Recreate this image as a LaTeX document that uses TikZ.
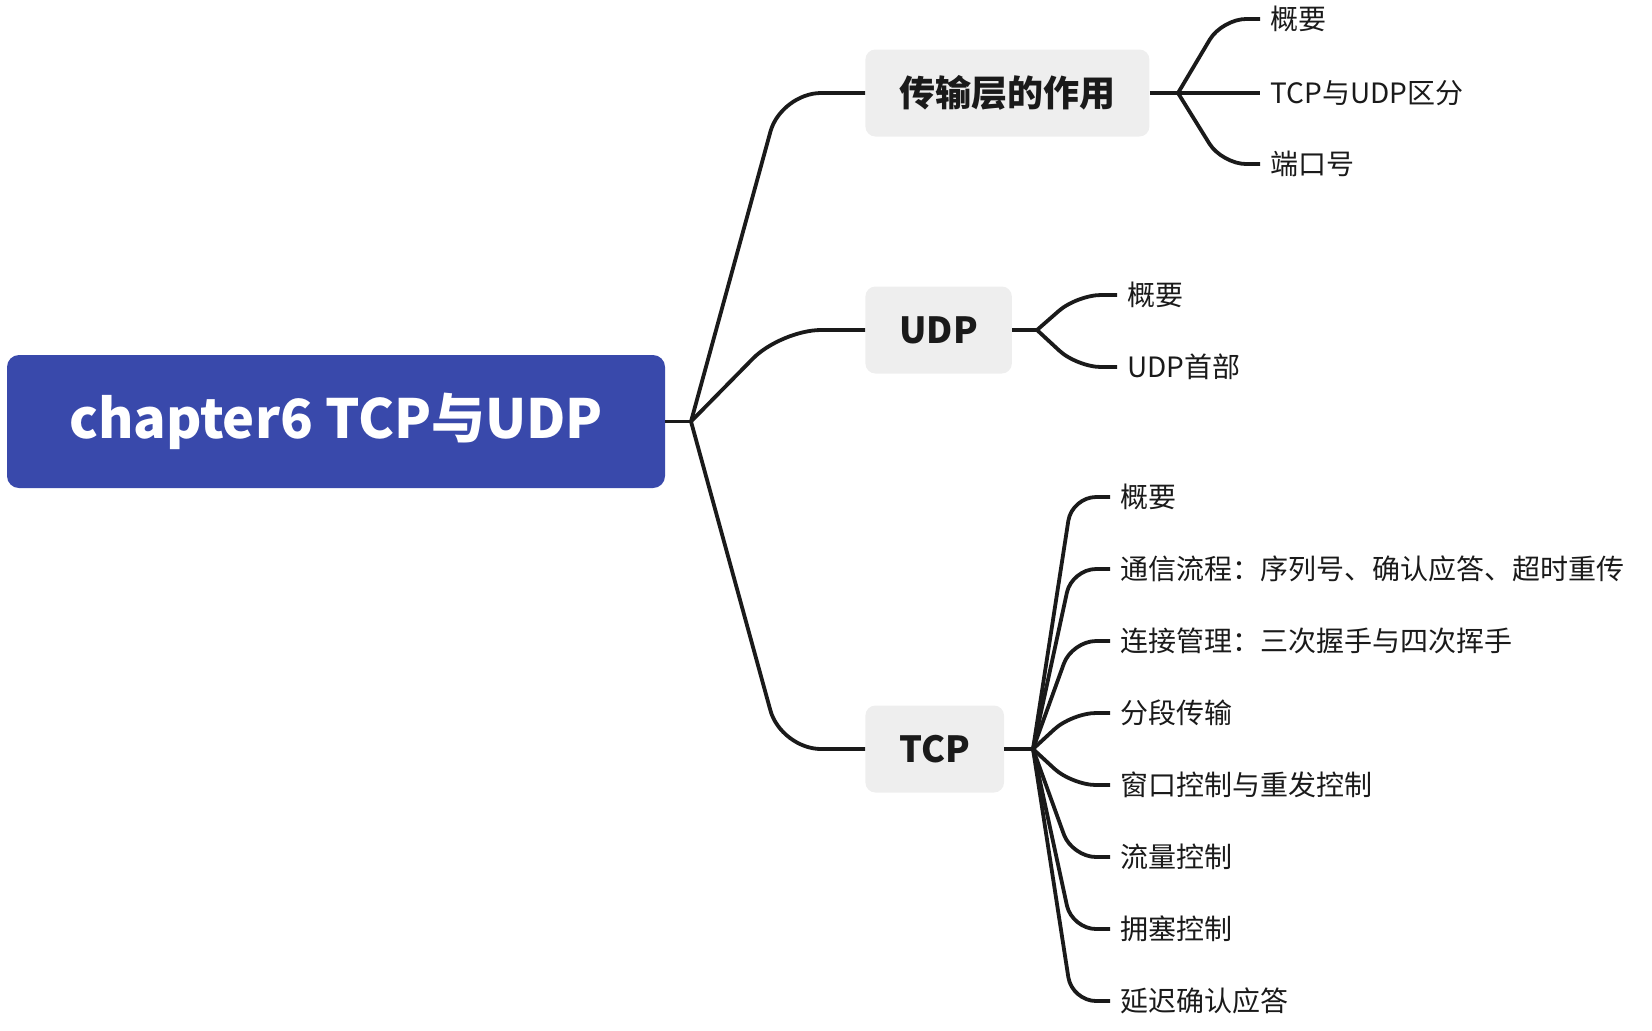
\documentclass[tikz,border=0pt]{standalone}
\usepackage{fontspec}
\setmainfont{Noto Sans CJK SC}
\definecolor{rootblue}{HTML}{3949AB}
\definecolor{boxgray}{HTML}{EEEEEE}
\definecolor{ink}{HTML}{1A1A1A}

\begin{document}
\begin{tikzpicture}[x=0.5pt,y=-0.5pt,
		root/.style={fill=rootblue,rounded corners=6pt,minimum width=329pt,minimum height=66.5pt,text=white,font=\bfseries\fontsize{27}{33}\selectfont},
		topic/.style={anchor=west,fill=boxgray,rounded corners=5pt,minimum height=43.5pt,inner xsep=17pt,text=ink,font=\bfseries\fontsize{18}{22}\selectfont},
		leaf/.style={anchor=west,inner xsep=5pt,inner ysep=0pt,text=ink,font=\fontsize{14}{17}\selectfont},
		edge/.style={draw=ink,line width=1.9pt},
		curvy/.style={edge,rounded corners=#1},
		curvy/.default=12pt]
		\useasboundingbox (0,0) rectangle (1652,1030);

		\node[root] (root) at (336,421.5) {chapter6 TCP与UDP};
		\node[topic] (role) at (865,93) {传输层的作用};
		\node[topic] (udp) at (865,330) {UDP};
		\node[topic] (tcp) at (865,749) {TCP};

		\coordinate (rootj) at (691,421.5);
		\coordinate (rootk) at (781,421.5);
		\draw[edge] (root.east) -- (rootj);
		\draw[curvy=20pt] (rootj) -- (rootk |- role.west) -- (role.west);
		\draw[curvy=20pt] (rootj) -- (rootk |- udp.west) -- (udp.west);
		\draw[curvy=20pt] (rootj) -- (rootk |- tcp.west) -- (tcp.west);

		\node[leaf] (role1) at (1260,19) {概要};
		\node[leaf] (role2) at (1260,93) {TCP与UDP区分};
		\node[leaf] (role3) at (1260,164) {端口号};
		\coordinate (rolej) at (1178,93);
		\coordinate (rolek) at (1222,93);
		\draw[edge] (role.east) -- (rolej);
		\draw[curvy] (rolej) -- (rolek |- role1.west) -- (role1.west);
		\draw[edge] (rolej) -- (role2.west);
		\draw[curvy] (rolej) -- (rolek |- role3.west) -- (role3.west);

		\node[leaf] (udp1) at (1117,295) {概要};
		\node[leaf] (udp2) at (1117,367) {UDP首部};
		\coordinate (udpj) at (1037,330);
		\coordinate (udpk) at (1077,330);
		\draw[edge] (udp.east) -- (udpj);
		\draw[curvy] (udpj) -- (udpk |- udp1.west) -- (udp1.west);
		\draw[curvy] (udpj) -- (udpk |- udp2.west) -- (udp2.west);

		\node[leaf] (tcp1) at (1110,497) {概要};
		\node[leaf] (tcp2) at (1110,569) {通信流程：序列号、确认应答、超时重传};
		\node[leaf] (tcp3) at (1110,641) {连接管理：三次握手与四次挥手};
		\node[leaf] (tcp4) at (1110,713) {分段传输};
		\node[leaf] (tcp5) at (1110,785) {窗口控制与重发控制};
		\node[leaf] (tcp6) at (1110,857) {流量控制};
		\node[leaf] (tcp7) at (1110,929) {拥塞控制};
		\node[leaf] (tcp8) at (1110,1001) {延迟确认应答};
		\coordinate (tcpj) at (1033,749);
		\coordinate (tcpk) at (1072,749);
		\draw[edge] (tcp.east) -- (tcpj);
		\draw[curvy] (tcpj) -- (tcpk |- tcp1.west) -- (tcp1.west);
		\draw[curvy] (tcpj) -- (tcpk |- tcp2.west) -- (tcp2.west);
		\draw[curvy] (tcpj) -- (tcpk |- tcp3.west) -- (tcp3.west);
		\draw[curvy] (tcpj) -- (tcpk |- tcp4.west) -- (tcp4.west);
		\draw[curvy] (tcpj) -- (tcpk |- tcp5.west) -- (tcp5.west);
		\draw[curvy] (tcpj) -- (tcpk |- tcp6.west) -- (tcp6.west);
		\draw[curvy] (tcpj) -- (tcpk |- tcp7.west) -- (tcp7.west);
		\draw[curvy] (tcpj) -- (tcpk |- tcp8.west) -- (tcp8.west);
	\end{tikzpicture}
\end{document}
